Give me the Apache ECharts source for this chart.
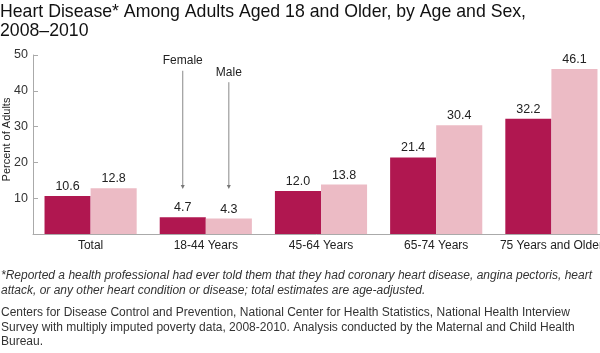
<!DOCTYPE html>
<html>
<head>
<meta charset="utf-8">
<script src="https://cdn.jsdelivr.net/npm/echarts@6/dist/echarts.min.js"></script>
<style>
  html, body { margin: 0; padding: 0; background: #fff; }
  #chart { width: 600px; height: 353px; }
</style>
</head>
<body>
<div id="chart"></div>
<script>
// data
const categories = ['Total', '18-44 Years', '45-64 Years', '65-74 Years', '75 Years and Older'];
const female = [10.6, 4.7, 12.0, 21.4, 32.2];
const male = [12.8, 4.3, 13.8, 30.4, 46.1];
const yTicks = [0, 10, 20, 30, 40, 50];

const FONT = '"Liberation Sans", Arial, sans-serif';
const chart = echarts.init(document.getElementById('chart'));

const options = {
  animation: false,
  title: {
    text: 'Heart Disease* Among Adults Aged 18 and Older, by Age and Sex,\n2008\u20132010',
    left: 0,
    top: 3,
    padding: 0,
    textStyle: { fontFamily: FONT, fontSize: 17.7, fontWeight: 'normal', color: '#111', lineHeight: 19 }
  },
  grid: { left: 33, top: 55, right: -9, bottom: 119, containLabel: false, outerBoundsMode: 'none' },
  xAxis: {
    type: 'category',
    data: categories,
    axisLine: { lineStyle: { color: '#aaa', width: 1 } },
    axisTick: { show: false },
    axisLabel: { fontFamily: FONT, fontSize: 12, color: '#222', margin: 6, interval: 0 }
  },
  yAxis: {
    type: 'value',
    min: yTicks[0],
    max: yTicks[yTicks.length - 1],
    interval: 10,
    name: 'Percent of Adults',
    nameLocation: 'middle',
    nameGap: 21,
    nameMoveOverlap: false,
    nameTextStyle: { fontFamily: FONT, fontSize: 11, color: '#222', padding: [0, 0, 0, 10] },
    axisLine: { show: true, lineStyle: { color: '#aaa', width: 1 } },
    axisTick: { show: true, inside: true, length: 5, lineStyle: { color: '#aaa' } },
    splitLine: { show: false },
    axisLabel: {
      fontFamily: FONT, fontSize: 12.5, color: '#333', margin: 5,
      formatter: v => (v === 0 ? '' : String(v))
    }
  },
  series: [
    {
      name: 'Female',
      type: 'bar',
      data: female,
      barGap: '0%',
      barCategoryGap: '20%',
      itemStyle: { color: '#b01750' },
      label: { show: true, position: 'top', distance: 3, fontFamily: FONT, fontSize: 12.5, color: '#222',
        formatter: p => p.value.toFixed(1) }
    },
    {
      name: 'Male',
      type: 'bar',
      data: male,
      barGap: '0%',
      barCategoryGap: '20%',
      itemStyle: { color: '#ecbbc5' },
      label: { show: true, position: 'top', distance: 3, fontFamily: FONT, fontSize: 12.5, color: '#222',
        formatter: p => p.value.toFixed(1) }
    }
  ]
};

chart.setOption(options);

// annotation arrows over the 18-44 group, placed from the axes
const c0 = chart.convertToPixel({ xAxisIndex: 0 }, categories[0]);
const c1 = chart.convertToPixel({ xAxisIndex: 0 }, categories[1]);
const bw = c1 - c0;
const yPx = v => chart.convertToPixel({ yAxisIndex: 0 }, v);

function arrow(x, label, textVal, fromVal, toVal) {
  const ty = yPx(textVal), y0 = yPx(fromVal), y1 = yPx(toVal);
  return [
    { type: 'text', x: x, y: ty, style: { text: label, fontFamily: FONT, fontSize: 12, fill: '#222',
      align: 'center', verticalAlign: 'middle' } },
    { type: 'line', shape: { x1: x, y1: y0, x2: x, y2: y1 - 3 }, style: { stroke: '#888', lineWidth: 1 } },
    { type: 'polygon', shape: { points: [[x - 2, y1 - 4], [x + 2, y1 - 4], [x, y1]] }, style: { fill: '#777' } }
  ];
}

const notes = [
  '*Reported a health professional had ever told them that they had coronary heart disease, angina pectoris, heart',
  'attack, or any other heart condition or disease; total estimates are age-adjusted.'
];
const source = [
  'Centers for Disease Control and Prevention, National Center for Health Statistics, National Health Interview',
  'Survey with multiply imputed poverty data, 2008-2010. Analysis conducted by the Maternal and Child Health',
  'Bureau.'
];

const graphics = []
  .concat(arrow(c1 - bw * 0.2, 'Female', 48.3, 45.6, 12.6))
  .concat(arrow(c1 + bw * 0.2, 'Male', 45.0, 42.4, 12.6));

notes.forEach((t, i) => graphics.push({
  type: 'text', left: 1, top: 270 + i * 15,
  style: { text: t, fontFamily: FONT, fontSize: 12, fontStyle: 'italic', fill: '#333' }
}));
source.forEach((t, i) => graphics.push({
  type: 'text', left: 1, top: 307 + i * 14.5,
  style: { text: t, fontFamily: FONT, fontSize: 12, fill: '#333' }
}));

chart.setOption({ graphic: graphics });
</script>
</body>
</html>
